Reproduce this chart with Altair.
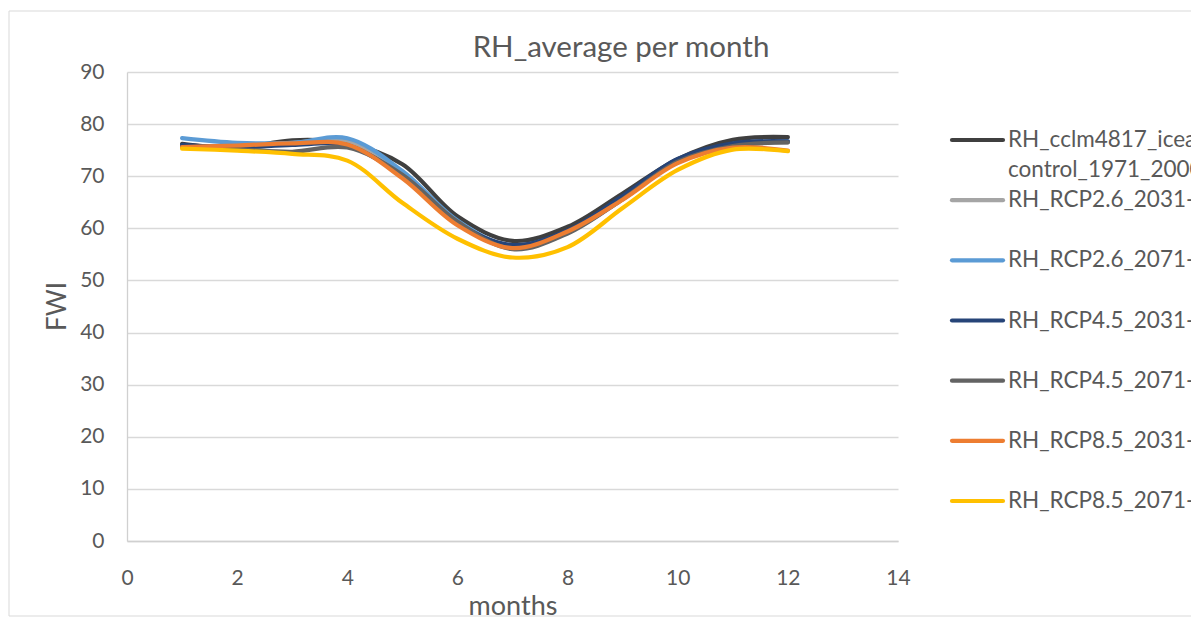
import altair as alt
import pandas as pd

months = list(range(1, 13))

series_names = [
    "RH_cclm4817_icearth_control_1971_2000",
    "RH_RCP2.6_2031-2060",
    "RH_RCP2.6_2071-2100",
    "RH_RCP4.5_2031-2060",
    "RH_RCP4.5_2071-2100",
    "RH_RCP8.5_2031-2060",
    "RH_RCP8.5_2071-2100",
]
legend_line1 = [
    "RH_cclm4817_icearth_",
    "RH_RCP2.6_2031-2060",
    "RH_RCP2.6_2071-2100",
    "RH_RCP4.5_2031-2060",
    "RH_RCP4.5_2071-2100",
    "RH_RCP8.5_2031-2060",
    "RH_RCP8.5_2071-2100",
]
legend_line2 = "control_1971_2000"
chart_title = "RH_average per month"

colors = ["#3f3f3f", "#a5a5a5", "#5b9bd5", "#264478", "#636363", "#ed7d31", "#ffc000"]

control_1971_2000 = [76.2, 75.4, 76.9, 76.3, 72.3, 62.3, 57.6, 60.3, 66.7, 73.3, 77.0, 77.5]
rcp26_2031 = [75.8, 75.8, 76.4, 76.8, 70.5, 61.2, 56.6, 59.3, 65.8, 72.9, 76.0, 76.5]
rcp26_2071 = [77.3, 76.4, 76.4, 77.3, 71.0, 61.5, 56.5, 59.2, 65.6, 72.8, 75.8, 76.7]
rcp45_2031 = [76.0, 75.5, 76.0, 75.9, 70.0, 61.0, 56.8, 59.6, 66.2, 73.3, 76.3, 76.7]
rcp45_2071 = [75.6, 75.2, 74.7, 75.5, 70.3, 61.3, 56.0, 59.0, 65.6, 72.8, 75.8, 76.5]
rcp85_2031 = [75.6, 75.9, 76.3, 76.1, 69.6, 60.6, 56.2, 59.4, 65.5, 72.5, 75.5, 74.9]
rcp85_2071 = [75.3, 74.9, 74.3, 73.0, 64.9, 58.0, 54.4, 56.4, 63.9, 71.2, 75.1, 74.8]

all_values = [control_1971_2000, rcp26_2031, rcp26_2071, rcp45_2031,
              rcp45_2071, rcp85_2031, rcp85_2071]

rows = []
for i, (name, vals) in enumerate(zip(series_names, all_values)):
    for m, v in zip(months, vals):
        rows.append({"series": name, "month": m, "value": v, "ord": i})
df = pd.DataFrame(rows)

leg_sym = pd.DataFrame({"series": series_names, "row": list(range(7))})
leg_txt = pd.DataFrame({
    "label": legend_line1 + [legend_line2],
    "row": list(range(7)) + [0.5],
})

FONT = "Lato"
TXT = "#595959"
color_scale = alt.Scale(domain=series_names, range=colors)
leg_y = alt.Y("row:Q", scale=alt.Scale(domain=[0, 6], range=[68, 429], nice=False, zero=False), axis=None)

border = alt.Chart(pd.DataFrame({"a": [0]})).mark_rect(
    fill="white", fillOpacity=0, stroke="#d9d9d9", strokeWidth=1
).encode(
    x=alt.value(-118), x2=alt.value(1090), y=alt.value(-61), y2=alt.value(544)
)

title_mark = alt.Chart(pd.DataFrame({"t": [chart_title]})).mark_text(
    align="center", baseline="alphabetic", font=FONT, fontSize=29.5, color=TXT
).encode(
    x=alt.value(494), y=alt.value(-15), text="t:N"
)

lines = alt.Chart(df).mark_line(
    interpolate="catmull-rom", strokeWidth=4.2, strokeCap="round", strokeJoin="round"
).encode(
    x=alt.X("month:Q", scale=alt.Scale(domain=[0, 14], nice=False, zero=False),
            axis=alt.Axis(values=list(range(0, 15, 2)), title="months", grid=False,
                          ticks=False, tickSize=0, domain=True, domainColor="#d0d0d0",
                          domainWidth=1.3, labelFont=FONT, labelFontSize=21,
                          labelColor=TXT, labelBaseline="alphabetic", labelPadding=43,
                          labelFlush=False,
                          titleFont=FONT, titleFontSize=27, titleFontWeight="normal",
                          titleColor=TXT, titleBaseline="alphabetic", titleY=73)),
    y=alt.Y("value:Q", scale=alt.Scale(domain=[0, 90], nice=False, zero=False),
            axis=alt.Axis(values=list(range(0, 91, 10)), title="FWI", grid=True,
                          gridColor="#d9d9d9", gridWidth=1.3, ticks=False, tickSize=0,
                          domain=True, domainColor="#d0d0d0", domainWidth=1.3,
                          labelFont=FONT, labelFontSize=21, labelColor=TXT,
                          labelPadding=23, labelFlush=False,
                          titleFont=FONT, titleFontSize=26,
                          titleFontWeight="normal", titleColor=TXT, titleAngle=270,
                          titleBaseline="alphabetic", titleAlign="center",
                          titleX=-62, titleY=234)),
    color=alt.Color("series:N", scale=color_scale, legend=None),
    order=alt.Order("ord:Q"),
)

leg_rules = alt.Chart(leg_sym).mark_rule(strokeWidth=4.2, strokeCap="round").encode(
    x=alt.value(825), x2=alt.value(876), y=leg_y,
    color=alt.Color("series:N", scale=color_scale, legend=None),
)

leg_text = alt.Chart(leg_txt).mark_text(
    align="left", baseline="middle", font=FONT, fontSize=22.5, color=TXT
).encode(
    x=alt.value(881), y=leg_y, text="label:N"
)

chart = alt.layer(border, title_mark, lines, leg_rules, leg_text).resolve_scale(
    y="independent"
).properties(
    width=771,
    height=469,
    padding={"left": 119, "top": 64, "right": 293, "bottom": 76},
    autosize=alt.AutoSizeParams(type="none"),
    background="white",
).configure_view(strokeWidth=0)

chart.save("out.html", embed_options={"renderer": "svg", "actions": False})
